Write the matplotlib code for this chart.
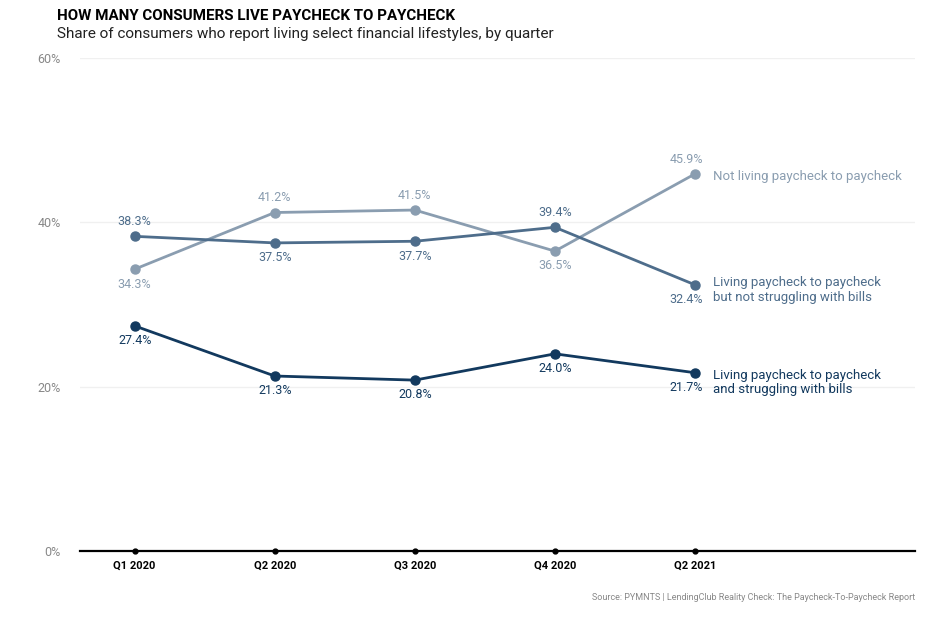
import matplotlib.pyplot as plt
from matplotlib.ticker import FuncFormatter

plt.rcParams['font.family'] = ['Roboto', 'DejaVu Sans']

quarters = ['Q1 2020', 'Q2 2020', 'Q3 2020', 'Q4 2020', 'Q2 2021']
not_living = [34.3, 41.2, 41.5, 36.5, 45.9]
living_ok = [38.3, 37.5, 37.7, 39.4, 32.4]
living_struggling = [27.4, 21.3, 20.8, 24.0, 21.7]

series_names = ['Not living paycheck to paycheck',
                'Living paycheck to paycheck\nbut not struggling with bills',
                'Living paycheck to paycheck\nand struggling with bills']
colors = ['#8a9db0', '#4e6d8b', '#12395e']
# label position per point: 1 above, -1 below
label_side = [[-1, 1, 1, -1, 1],
              [1, -1, -1, 1, -1],
              [-1, -1, -1, -1, -1]]

fig = plt.figure(figsize=(9.36, 6.22), dpi=100)
ax = fig.add_axes([0.0855, 0.1141, 0.892, 0.7926])

x = list(range(len(quarters)))
all_series = [not_living, living_ok, living_struggling]
for vals, col, sides in zip(all_series, colors, label_side):
    ax.plot(x, vals, color=col, lw=2, marker='o', ms=6.5, zorder=3)
    for i, (v, s) in enumerate(zip(vals, sides)):
        dx = 0
        if i == len(vals) - 1:
            dx = -0.06
        ax.annotate(f'{v:.1f}%', (x[i] + dx, v), xytext=(0, 6 * s),
                    textcoords='offset points', ha='center',
                    va='bottom' if s > 0 else 'top', fontsize=9, color=col)

name_y = [not_living[-1], living_ok[-1], living_struggling[-1]]
name_dy = [-2, 6, 3]
for name, yv, col, dy in zip(series_names, name_y, colors, name_dy):
    two = '\n' in name
    ax.annotate(name, (x[-1], yv), xytext=(13, dy),
                textcoords='offset points', ha='left',
                va='top' if two else 'center',
                fontsize=9.5, color=col, linespacing=1.15)

ax.set_xlim(-0.39, 5.57)
ax.set_ylim(0, 60)
ax.set_yticks([0, 20, 40, 60])
ax.yaxis.set_major_formatter(FuncFormatter(lambda v, p: f'{v:.0f}%'))
ax.grid(axis='y', color='#f0f0f0', lw=1)
ax.set_axisbelow(True)
for sp in ['top', 'right', 'left']:
    ax.spines[sp].set_visible(False)
ax.spines['bottom'].set_linewidth(1.6)
ax.spines['bottom'].set_color('black')
ax.tick_params(axis='y', length=0, labelsize=9, labelcolor='#888888', pad=14)
ax.set_xticks(x)
ax.set_xticklabels(quarters, fontsize=8, fontweight='bold')
ax.tick_params(axis='x', length=0, pad=7)
ax.plot(x, [0] * len(x), 'o', color='black', ms=3.5, clip_on=False, zorder=4)

fig.text(57 / 936, 1 - 9 / 622, 'HOW MANY CONSUMERS LIVE PAYCHECK TO PAYCHECK',
         fontsize=10.9, fontweight='bold', va='top', ha='left')
fig.text(57 / 936, 1 - 27 / 622,
         'Share of consumers who report living select financial lifestyles, by quarter',
         fontsize=11, va='top', ha='left', color='#222222')
fig.text(915 / 936, 1 - 597 / 622,
         'Source: PYMNTS | LendingClub Reality Check: The Paycheck-To-Paycheck Report',
         fontsize=6.5, color='#888888', ha='right', va='center')

fig.savefig('out.png', dpi=100)
